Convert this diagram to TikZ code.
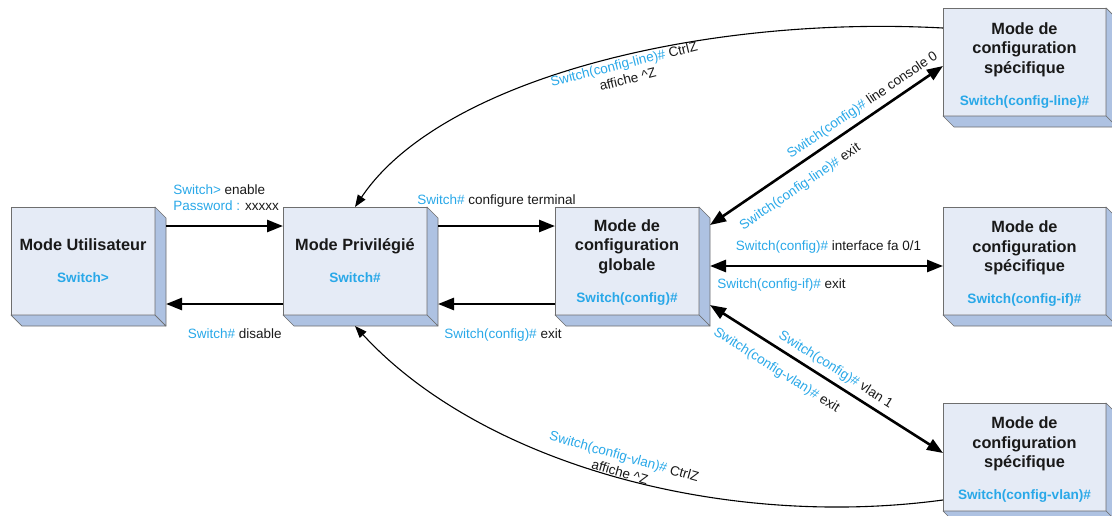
\documentclass[tikz,border=0pt]{standalone}
\usepackage{fontspec}
\setmainfont{Liberation Sans}
\usetikzlibrary{arrows.meta}
\definecolor{boxfront}{RGB}{229,235,246}
\definecolor{boxside}{RGB}{174,194,226}
\definecolor{boxline}{RGB}{110,110,110}
\definecolor{swblue}{RGB}{41,168,232}
\definecolor{txtblack}{RGB}{25,25,25}
\newcommand\sw[1]{\textcolor{swblue}{#1}}
\newcommand\subtxt[1]{{\fontsize{13.6}{16}\selectfont\bfseries\color{swblue}#1}}
\newcommand\extrude[1]{%
  \filldraw[sidefill] (#1.north east) -- ++(11,-11) -- ([shift={(11,-11)}]#1.south east) -- (#1.south east) -- cycle;
  \filldraw[sidefill] (#1.south west) -- (#1.south east) -- ([shift={(11,-11)}]#1.south east) -- ([shift={(11,-11)}]#1.south west) -- cycle;}
\begin{document}
\begin{tikzpicture}[x=1pt,y=1pt,
  modebox/.style={draw=boxline, fill=boxfront, line width=0.7pt, inner sep=0pt, outer sep=0pt,
    align=center, font=\fontsize{16.3}{19.5}\selectfont\bfseries, text=txtblack,
    minimum height=108pt},
  sidefill/.style={draw=boxline, fill=boxside, line width=0.7pt, line join=round},
  lbl/.style={font=\fontsize{13.5}{16}\selectfont, text=txtblack, inner xsep=0pt, inner ysep=0pt},
  big/.style={line width=2.6pt, -{Triangle[length=16pt,width=12pt]}},
  dbl/.style={line width=2.6pt, {Triangle[length=16pt,width=12pt]}-{Triangle[length=16pt,width=12pt]}},
  back/.style={line width=1.1pt, -{Triangle[length=12pt,width=9pt]}}]
\useasboundingbox (0,-515) rectangle (1112,0);

% boxes
\node[modebox, minimum width=144pt] (user) at (83,-261) {Mode Utilisateur\\[12.5pt]\subtxt{Switch>}};
\extrude{user}
\node[modebox, minimum width=144pt] (priv) at (355,-261) {Mode Privilégié\\[12.5pt]\subtxt{Switch\#}};
\extrude{priv}
\node[modebox, minimum width=144pt] (glob) at (627,-261) {\rule{0pt}{14pt}Mode de\\configuration\\globale\\[12.5pt]\subtxt{Switch(config)\#}};
\extrude{glob}
\node[modebox, minimum width=163pt] (line) at (1024.5,-62) {\rule{0pt}{18pt}Mode de\\configuration\\spécifique\\[12.5pt]\subtxt{Switch(config-line)\#}};
\extrude{line}
\node[modebox, minimum width=163pt] (if) at (1024.5,-261) {\rule{0pt}{17pt}Mode de\\configuration\\spécifique\\[12.5pt]\subtxt{Switch(config-if)\#}};
\extrude{if}
\node[modebox, minimum width=163pt] (vlan) at (1024.5,-457) {\rule{0pt}{17pt}Mode de\\configuration\\spécifique\\[12.5pt]\subtxt{Switch(config-vlan)\#}};
\extrude{vlan}

% user <-> privileged
\draw[big] ([shift={(11,35)}]user.east) --
  node[pos=0, lbl, anchor=south west, align=left, xshift=6pt, yshift=14pt]{\sw{Switch>} enable\\\sw{Password :} xxxxx}
  ([yshift=35]priv.west);
\draw[big] ([yshift=-43]priv.west) --
  node[pos=0, lbl, anchor=base east, yshift=-34pt]{\sw{Switch\#} disable}
  ([shift={(11,-43)}]user.east);

% privileged <-> global
\draw[big] ([shift={(11,35)}]priv.east) --
  node[midway, lbl, anchor=base, yshift=22pt]{\sw{Switch\#} configure terminal}
  ([yshift=35]glob.west);
\draw[big] ([yshift=-43]glob.west) --
  node[midway, lbl, anchor=base, xshift=6.5pt, yshift=-34pt]{\sw{Switch(config)\#} exit}
  ([shift={(11,-43)}]priv.east);

% global <-> interface
\draw[dbl] ([shift={(11,-5)}]glob.east) --
  node[midway, lbl, anchor=base, xshift=2pt, yshift=16pt]{\sw{Switch(config)\#} interface fa 0/1}
  node[pos=0, lbl, anchor=base west, xshift=6pt, yshift=-22pt]{\sw{Switch(config-if)\#} exit}
  ([yshift=-5]if.west);

% global <-> line
\draw[dbl] ([shift={(11,36)}]glob.east) --
  node[pos=0.686, sloped, lbl, anchor=south, inner ysep=5pt]{\sw{Switch(config)\#} line console 0}
  node[pos=0.34, sloped, lbl, anchor=north, inner ysep=12pt]{\sw{Switch(config-line)\#} exit}
  ([yshift=-4]line.west);

% global <-> vlan
\draw[dbl] ([shift={(11,-44)}]glob.east) --
  node[pos=0.51, sloped, lbl, anchor=south, inner ysep=5pt]{\sw{Switch(config)\#} vlan 1}
  node[pos=0.33, sloped, lbl, anchor=north, inner ysep=12pt]{\sw{Switch(config-vlan)\#} exit}
  ([yshift=4]vlan.west);

% CtrlZ returns
\draw[back] ([yshift=34]line.west) .. controls (700,-15) and (440,-80) ..
  node[pos=0.45, sloped, lbl, anchor=north, inner ysep=2pt, align=center]{\sw{Switch(config-line)\#} CtrlZ\\affiche \textasciicircum Z}
  (priv.north);
\draw[back] ([yshift=-43]vlan.west) .. controls (720,-530) and (480,-462) ..
  node[pos=0.49, sloped, lbl, anchor=south, inner ysep=0pt, align=center]{\sw{Switch(config-vlan)\#} CtrlZ\\affiche \textasciicircum Z}
  ([yshift=-11]priv.south);
\end{tikzpicture}
\end{document}
